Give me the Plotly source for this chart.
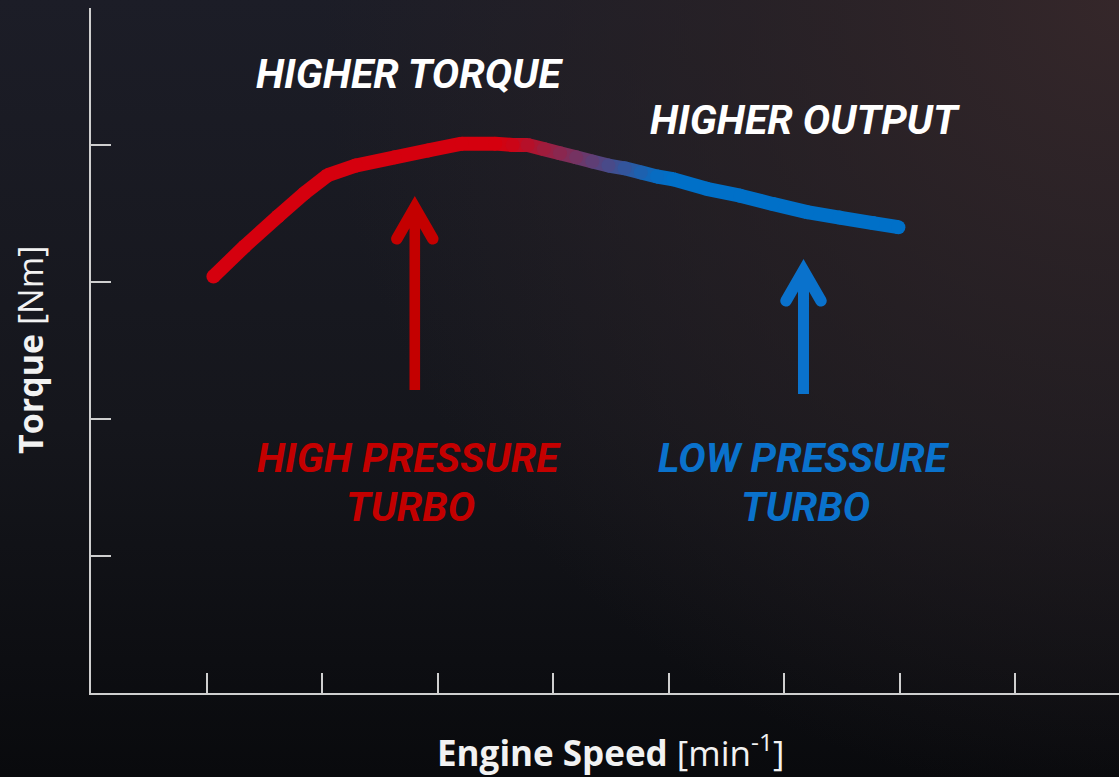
import base64
import math
import plotly.graph_objects as go

# ---------------- data ----------------
speed = [1.06, 1.33, 1.62, 1.85, 2.05, 2.29, 2.63, 2.92, 3.21, 3.50, 3.65, 3.78, 3.92,
         4.06, 4.20, 4.34, 4.48, 4.62, 4.76, 4.90, 5.04, 5.33, 5.62, 5.90, 6.20, 6.48,
         6.77, 6.99]
torque = [3.04, 3.26, 3.48, 3.65, 3.78, 3.85, 3.91, 3.96, 4.01, 4.01, 4.00, 4.00, 3.97,
          3.94, 3.91, 3.88, 3.85, 3.83, 3.80, 3.77, 3.75, 3.68, 3.63, 3.57, 3.51, 3.47,
          3.43, 3.40]
x_ticks = [1, 2, 3, 4, 5, 6, 7, 8]
y_ticks = [1, 2, 3, 4, 5]

# ---------------- layout geometry ----------------
FW, FH = 1119, 777
L, T, W, H = 91, 8, 1028, 685
X_MAX, Y_MAX = 8.9, 5.0


def dx(px):
    return (px - L) / W * X_MAX


def dy(py):
    return (T + H - py) / H * Y_MAX


def paper_x(px):
    return (px - L) / W


def paper_y(py):
    return (T + H - py) / H


RED = (213, 0, 14)
BLUE = (0, 112, 200)


def color_at(x):
    px = L + x / X_MAX * W
    t = min(1.0, max(0.0, (px - 505) / (662 - 505)))
    return tuple(RED[i] + (BLUE[i] - RED[i]) * t for i in range(3))


def rgb(c):
    return "rgb(%d,%d,%d)" % tuple(int(round(v)) for v in c)


fig = go.Figure()

# gradient curve: one segment per pair of points
for i in range(len(speed) - 1):
    c1, c2 = color_at(speed[i]), color_at(speed[i + 1])
    cm = tuple((a + b) / 2 for a, b in zip(c1, c2))
    fig.add_trace(go.Scatter(x=[speed[i], speed[i + 1]], y=[torque[i], torque[i + 1]],
                             mode="lines", line=dict(color=rgb(cm), width=14),
                             hoverinfo="skip", showlegend=False))
fig.add_trace(go.Scatter(x=speed, y=torque, mode="markers",
                         marker=dict(size=14, color=[rgb(color_at(v)) for v in speed],
                                     line=dict(width=0)),
                         hoverinfo="skip", showlegend=False))


# arrows (shapes)
def arrow_path(ax, ay, arm_dx, arm_dy, thick, shaft_half, bottom):
    ln = math.hypot(arm_dx, arm_dy)
    ux, uy = arm_dx / ln, arm_dy / ln
    nx, ny = uy, -ux          # outward normal of the right arm
    pts = [(ax, ay)]
    ro = (ax + arm_dx, ay + arm_dy)
    r = thick / 2
    cxr, cyr = ro[0] - nx * r, ro[1] - ny * r
    ang0 = math.atan2(ny, nx)
    for k in range(0, 9):
        a = ang0 + math.pi * k / 8
        pts.append((cxr + r * math.cos(a), cyr + r * math.sin(a)))
    ri_end = (cxr - nx * r, cyr - ny * r)
    t = (ri_end[0] - (ax + shaft_half)) / ux
    pts.append((ax + shaft_half, ri_end[1] - uy * t))
    pts.append((ax + shaft_half, bottom))
    pts.append((ax - shaft_half, bottom))
    mirror = [(2 * ax - p[0], p[1]) for p in pts[1:-2]]
    mirror.reverse()
    pts.extend(mirror)
    return "M " + " L ".join("%.4f,%.4f" % (dx(p[0]), dy(p[1])) for p in pts) + " Z"


fig.add_shape(type="path", path=arrow_path(414.8, 196, 23, 40, 11.5, 5.3, 390),
              xref="x", yref="y", fillcolor="#c40000", line=dict(width=0))
fig.add_shape(type="path", path=arrow_path(803.5, 259, 22.5, 39, 11.5, 5.5, 394),
              xref="x", yref="y", fillcolor="#0a72cc", line=dict(width=0))

# texts
big = dict(family="Roboto", size=41, weight=700, style="italic")


def label(text, px, py, color, font=None, angle=0):
    fig.add_annotation(x=paper_x(px), y=paper_y(py), xref="paper", yref="paper",
                       text=text, showarrow=False, xanchor="center", yanchor="middle",
                       textangle=angle, font=font or dict(color=color, **big))


label("HIGHER TORQUE", 409, 74, "#ffffff")
label("HIGHER OUTPUT", 805, 120, "#ffffff")
label("HIGH PRESSURE", 409, 458, "#c40000")
label("TURBO", 410, 507, "#c40000")
label("LOW PRESSURE", 804, 458, "#0a72cc")
label("TURBO", 805, 507, "#0a72cc")

label("<b>Engine Speed</b> [min<sup>-1</sup>]", 610, 750, None,
      font=dict(family="Open Sans", size=35, color="#f2f2f2"))
label("<b>Torque</b> [Nm]", 30, 350, None,
      font=dict(family="Open Sans", size=34, color="#f2f2f2"), angle=-90)

# background gradient
svg = ("<svg xmlns='http://www.w3.org/2000/svg' width='1119' height='777' "
       "viewBox='0 0 1119 777' preserveAspectRatio='none'>"
       "<defs>"
       "<linearGradient id='v' x1='0' y1='0' x2='0' y2='1'>"
       "<stop offset='0' stop-color='#1c1d27'/>"
       "<stop offset='0.55' stop-color='#15161c'/>"
       "<stop offset='1' stop-color='#090a0d'/></linearGradient>"
       "<radialGradient id='r' cx='1119' cy='0' r='800' gradientUnits='userSpaceOnUse'>"
       "<stop offset='0' stop-color='#35272a' stop-opacity='1'/>"
       "<stop offset='0.5' stop-color='#2d2326' stop-opacity='0.6'/>"
       "<stop offset='1' stop-color='#2d2326' stop-opacity='0'/></radialGradient>"
       "</defs>"
       "<rect width='1119' height='777' fill='url(#v)'/>"
       "<rect width='1119' height='777' fill='url(#r)'/>"
       "</svg>")
src = "data:image/svg+xml;base64," + base64.b64encode(svg.encode()).decode()
fig.add_layout_image(source=src, xref="paper", yref="paper",
                     x=-L / W, y=1 + T / H, sizex=FW / W, sizey=FH / H,
                     xanchor="left", yanchor="top", sizing="stretch", layer="below")

axis_common = dict(showline=True, linecolor="#cfcfcf", linewidth=2, ticks="inside",
                   ticklen=20, tickwidth=2, tickcolor="#cfcfcf", showticklabels=False,
                   showgrid=False, zeroline=False, fixedrange=True)
fig.update_layout(
    width=FW, height=FH,
    margin=dict(l=L, r=FW - L - W, t=T, b=FH - T - H),
    paper_bgcolor="#111217", plot_bgcolor="rgba(0,0,0,0)",
    xaxis=dict(range=[0, X_MAX], tickvals=x_ticks, **axis_common),
    yaxis=dict(range=[0, Y_MAX], tickvals=y_ticks, **axis_common),
    showlegend=False,
)

fig.write_html("out.html",
               config={"displayModeBar": False, "staticPlot": True},
               post_script="document.body.style.margin='0';"
                           "document.body.style.background='#0a0b0e';")
